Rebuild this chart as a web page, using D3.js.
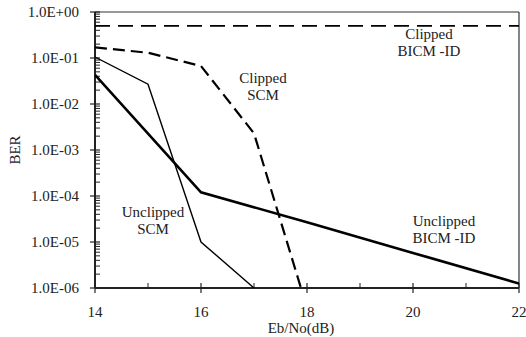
<!DOCTYPE html>
<html>
<head>
<meta charset="utf-8">
<script src="https://cdn.jsdelivr.net/npm/d3@7"></script>
<style>
  body { margin: 0; background: #fff; }
</style>
</head>
<body>
<div id="chart"></div>
<script>
// data
const unclippedBicmX = [14, 16, 18, 20, 22];
const unclippedBicmBer = [4.3e-2, 1.2e-4, 2.7e-5, 5.8e-6, 1.25e-6];

const unclippedScmX = [14, 15, 16, 17];
const unclippedScmBer = [1.05e-1, 2.7e-2, 1.0e-5, 1.0e-6];

const clippedScmX = [14, 15, 16, 17, 18];
const clippedScmBer = [1.7e-1, 1.3e-1, 6.7e-2, 2.3e-3, 3.7e-7];

const clippedBicmX = [14, 15, 16, 17, 18, 19, 20, 21, 22];
const clippedBicmBer = [0.5, 0.5, 0.5, 0.5, 0.5, 0.5, 0.5, 0.5, 0.5];

const xTicks = [14, 16, 18, 20, 22];
const yTicks = [1, 1e-1, 1e-2, 1e-3, 1e-4, 1e-5, 1e-6];
const yTickLabels = ["1.0E+00", "1.0E-01", "1.0E-02", "1.0E-03", "1.0E-04", "1.0E-05", "1.0E-06"];

const width = 526, height = 337;
const margin = {top: 12, right: 7, bottom: 49, left: 95};
const serif = "'Liberation Serif', 'DejaVu Serif', serif";

const svg = d3.select("#chart").append("svg")
    .attr("width", width)
    .attr("height", height)
    .attr("font-family", serif);

const x = d3.scaleLinear().domain([14, 22]).range([margin.left, width - margin.right]);
const y = d3.scaleLog().domain([1e-6, 1]).range([height - margin.bottom, margin.top]);

// clip so the lines stop at the frame
svg.append("clipPath").attr("id", "plotclip")
    .append("rect")
    .attr("x", margin.left).attr("y", margin.top)
    .attr("width", x(22) - x(14)).attr("height", y(1e-6) - y(1));

// frame (top and right)
svg.append("line")
    .attr("x1", x(14)).attr("x2", x(22)).attr("y1", y(1)).attr("y2", y(1))
    .attr("stroke", "#333").attr("stroke-width", 1.2);
svg.append("line")
    .attr("x1", x(22)).attr("x2", x(22)).attr("y1", y(1)).attr("y2", y(1e-6))
    .attr("stroke", "#333").attr("stroke-width", 1.2);

// y axis: major ticks cross the axis, minor ticks point inward
const minorY = [];
for (let e = -6; e < 0; e++) {
    for (let m = 2; m <= 9; m++) minorY.push(m * Math.pow(10, e));
}
const yg = svg.append("g");
yg.selectAll(".minor").data(minorY).join("line")
    .attr("x1", x(14)).attr("x2", x(14) + 5)
    .attr("y1", d => y(d)).attr("y2", d => y(d))
    .attr("stroke", "#222").attr("stroke-width", 1);
yg.selectAll(".major").data(yTicks).join("line")
    .attr("x1", x(14) - 5).attr("x2", x(14) + 5)
    .attr("y1", d => y(d)).attr("y2", d => y(d))
    .attr("stroke", "#222").attr("stroke-width", 1.2);
yg.selectAll("text").data(yTicks).join("text")
    .attr("x", x(14) - 16)
    .attr("y", d => y(d))
    .attr("dy", "0.35em")
    .attr("text-anchor", "end")
    .attr("font-family", serif)
    .attr("font-size", 15)
    .attr("fill", "#222")
    .text((d, i) => yTickLabels[i]);
svg.append("line")
    .attr("x1", x(14)).attr("x2", x(14)).attr("y1", y(1)).attr("y2", y(1e-6))
    .attr("stroke", "#222").attr("stroke-width", 2);

// x axis
const xg = svg.append("g");
xg.selectAll(".minor").data(d3.range(15, 22, 2)).join("line")
    .attr("x1", d => x(d)).attr("x2", d => x(d))
    .attr("y1", y(1e-6) - 5).attr("y2", y(1e-6))
    .attr("stroke", "#222").attr("stroke-width", 1);
xg.selectAll(".major").data(xTicks).join("line")
    .attr("x1", d => x(d)).attr("x2", d => x(d))
    .attr("y1", y(1e-6) - 5).attr("y2", y(1e-6) + 5)
    .attr("stroke", "#222").attr("stroke-width", 1.2);
xg.selectAll("text").data(xTicks).join("text")
    .attr("x", d => x(d))
    .attr("y", y(1e-6) + 29)
    .attr("text-anchor", "middle")
    .attr("font-family", serif)
    .attr("font-size", 15)
    .attr("fill", "#222")
    .text(d => d);
svg.append("line")
    .attr("x1", x(14)).attr("x2", x(22)).attr("y1", y(1e-6)).attr("y2", y(1e-6))
    .attr("stroke", "#222").attr("stroke-width", 2);

// axis titles
svg.append("text")
    .attr("x", (x(14) + x(22)) / 2 - 6)
    .attr("y", 333)
    .attr("text-anchor", "middle")
    .attr("font-family", serif)
    .attr("font-size", 15)
    .attr("fill", "#222")
    .text("Eb/No(dB)");
svg.append("text")
    .attr("transform", `translate(20,${(y(1) + y(1e-6)) / 2}) rotate(-90)`)
    .attr("text-anchor", "middle")
    .attr("font-family", serif)
    .attr("font-size", 15)
    .attr("fill", "#222")
    .text("BER");

// series
const line = d3.line().x(d => x(d[0])).y(d => y(d[1]));
const plot = svg.append("g").attr("clip-path", "url(#plotclip)");

const series = [
    {xs: unclippedBicmX, ys: unclippedBicmBer, w: 2.6, dash: null},
    {xs: unclippedScmX, ys: unclippedScmBer, w: 1.4, dash: null},
    {xs: clippedScmX, ys: clippedScmBer, w: 2.2, dash: "12,6"},
    {xs: clippedBicmX, ys: clippedBicmBer, w: 1.8, dash: "15,8"}
];
series.forEach(s => {
    plot.append("path")
        .datum(s.xs.map((v, i) => [v, s.ys[i]]))
        .attr("d", line)
        .attr("fill", "none")
        .attr("stroke", "#000")
        .attr("stroke-width", s.w)
        .attr("stroke-dasharray", s.dash);
});

// annotations
const notes = [
    {x: 429, y: 39, lines: ["Clipped", "BICM -ID"]},
    {x: 263, y: 83, lines: ["Clipped", "SCM"]},
    {x: 153, y: 217, lines: ["Unclipped", "SCM"]},
    {x: 444, y: 226, lines: ["Unclipped", "BICM -ID"]}
];
notes.forEach(n => {
    const t = svg.append("text")
        .attr("text-anchor", "middle")
        .attr("font-family", serif)
        .attr("font-size", 15)
        .attr("fill", "#222");
    n.lines.forEach((l, i) => {
        t.append("tspan").attr("x", n.x).attr("y", n.y + i * 17).text(l);
    });
});
</script>
</body>
</html>
